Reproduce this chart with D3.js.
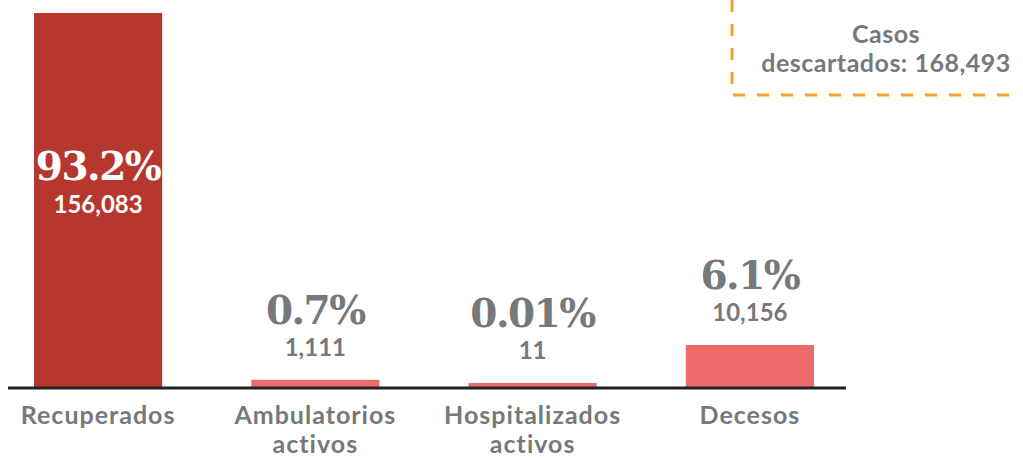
<!DOCTYPE html>
<html>
<head>
<meta charset="utf-8">
<script src="https://cdn.jsdelivr.net/npm/d3@7"></script>
<style>
  body { margin: 0; background: #fff; }
  svg { display: block; }
</style>
</head>
<body>
<svg></svg>
<script>
const width = 1023;
const height = 458;

// data
const categories = ["Recuperados", "Ambulatorios\nactivos", "Hospitalizados\nactivos", "Decesos"];
const values = [156083, 1111, 11, 10156];
const percents = ["93.2%", "0.7%", "0.01%", "6.1%"];
const countLabels = ["156,083", "1,111", "11", "10,156"];
const discardedLabel = ["Casos", "descartados: 168,493"];

const data = categories.map((c, i) => ({
  cat: c, value: values[i], pct: percents[i], count: countLabels[i]
}));

const grey = "#77787a";
const baseY = 387;

const svg = d3.select("svg")
  .attr("width", width)
  .attr("height", height);

const xScale = d3.scaleBand()
  .domain(categories)
  .range([34, 814])
  .paddingInner(0.41)
  .paddingOuter(0);

// bars are drawn on a compressed scale, like the original infographic
const yScale = d3.scalePow()
  .exponent(0.8)
  .domain([0, d3.max(values)])
  .range([baseY, 13]);

const barTop = d => Math.min(yScale(d.value), baseY - 4);
const cx = d => xScale(d.cat) + xScale.bandwidth() / 2;

svg.selectAll("rect.bar")
  .data(data)
  .enter()
  .append("rect")
    .attr("class", "bar")
    .attr("x", d => xScale(d.cat))
    .attr("y", d => barTop(d))
    .attr("width", xScale.bandwidth())
    .attr("height", d => baseY - barTop(d))
    .attr("fill", (d, i) => i === 0 ? "#b5372d" : "#ec6a6a");

// baseline
svg.append("line")
  .attr("x1", 8)
  .attr("x2", 846)
  .attr("y1", baseY + 1)
  .attr("y2", baseY + 1)
  .attr("stroke", "#222")
  .attr("stroke-width", 3);

// percent labels
svg.selectAll("text.pct")
  .data(data)
  .enter()
  .append("text")
    .attr("class", "pct")
    .attr("x", cx)
    .attr("y", (d, i) => i === 0 ? 180 : barTop(d) - 56)
    .attr("text-anchor", "middle")
    .style("font-family", "'DejaVu Serif', serif")
    .style("font-weight", "bold")
    .style("font-size", "39px")
    .style("letter-spacing", "-1.5px")
    .attr("fill", (d, i) => i === 0 ? "#fff" : grey)
    .text(d => d.pct);

// count labels
svg.selectAll("text.count")
  .data(data)
  .enter()
  .append("text")
    .attr("class", "count")
    .attr("x", cx)
    .attr("y", (d, i) => i === 0 ? 213 : barTop(d) - 24)
    .attr("text-anchor", "middle")
    .style("font-family", "Lato, sans-serif")
    .style("font-weight", "bold")
    .style("font-size", "24px")
    .attr("fill", (d, i) => i === 0 ? "#fff" : grey)
    .text(d => d.count);

// category labels
const catText = svg.selectAll("text.cat")
  .data(data)
  .enter()
  .append("text")
    .attr("class", "cat")
    .attr("text-anchor", "middle")
    .style("font-family", "Lato, sans-serif")
    .style("font-weight", "bold")
    .style("font-size", "25px")
    .style("letter-spacing", "1px")
    .attr("fill", grey);

catText.selectAll("tspan")
  .data(d => d.cat.split("\n").map(t => ({ t, x: cx(d) })))
  .enter()
  .append("tspan")
    .attr("x", d => d.x)
    .attr("y", (d, i) => 424 + i * 29)
    .text(d => d.t);

// discarded cases box
svg.append("path")
  .attr("d", "M732,0 V95 H1015")
  .attr("fill", "none")
  .attr("stroke", "#f5a32a")
  .attr("stroke-width", 3)
  .attr("stroke-dasharray", "12,12");

svg.selectAll("text.disc")
  .data(discardedLabel)
  .enter()
  .append("text")
    .attr("class", "disc")
    .attr("x", 886)
    .attr("y", (d, i) => 43 + i * 29)
    .attr("text-anchor", "middle")
    .style("font-family", "Lato, sans-serif")
    .style("font-weight", "bold")
    .style("font-size", "25px")
    .style("letter-spacing", "0.5px")
    .attr("fill", grey)
    .text(d => d);
</script>
</body>
</html>
